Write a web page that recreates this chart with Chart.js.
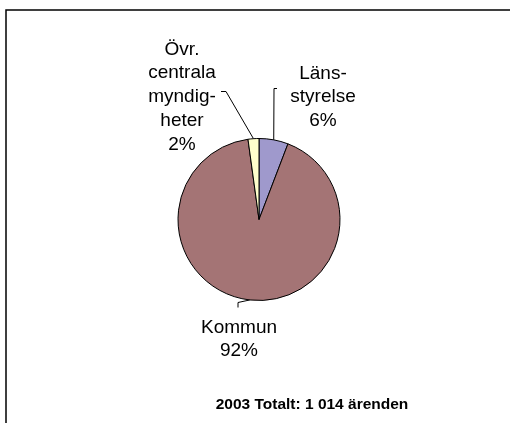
<!DOCTYPE html>
<html>
<head>
<meta charset="utf-8">
<script src="https://cdn.jsdelivr.net/npm/chart.js@4/dist/chart.umd.min.js"></script>
<style>
  html, body { margin: 0; padding: 0; background: #fff; }
  #wrap { width: 510px; height: 423px; }
</style>
</head>
<body>
<div id="wrap"><canvas id="chart" width="510" height="423"></canvas></div>
<script>
// Ärenden per instans 2003
const categories = ["Läns-\nstyrelse", "Kommun", "Övr.\ncentrala\nmyndig-\nheter"]
const cases = [59, 933, 22]
const colors = ["#9F99CC", "#A47475", "#FFFFCC"]
const footerText = "2003 Totalt: 1 014 ärenden"

const FONT = "'Liberation Sans', Arial, sans-serif"

// label layout, offsets from pie centre (one per slice)
const labelLayout = [
  { dx: 64, dy: -141, from: [18, -131], elbow: [15, -131] },
  { dx: -20, dy: 113, from: [-21, 88], elbow: [-21, 83] },
  { dx: -77, dy: -165, from: [-38, -128], elbow: [-33, -128] }
]

const framePlugin = {
  id: "frame",
  beforeDraw(chart) {
    const ctx = chart.ctx
    ctx.save()
    ctx.strokeStyle = "#000"
    ctx.lineWidth = 1.5
    ctx.beginPath()
    ctx.moveTo(6, 430)
    ctx.lineTo(6, 10)
    ctx.lineTo(520, 10)
    ctx.stroke()
    ctx.restore()
  }
}

const labelPlugin = {
  id: "pieLabels",
  afterDraw(chart) {
    const ctx = chart.ctx
    const meta = chart.getDatasetMeta(0)
    const data = chart.data.datasets[0].data
    const total = data.reduce((a, b) => a + b, 0)
    ctx.save()
    meta.data.forEach((arc, i) => {
      const lay = labelLayout[i]
      const cx = arc.x, cy = arc.y
      const mid = (arc.startAngle + arc.endAngle) / 2
      const ax = cx + Math.cos(mid) * arc.outerRadius
      const ay = cy + Math.sin(mid) * arc.outerRadius

      // leader line
      ctx.strokeStyle = "#000"
      ctx.lineWidth = 1
      ctx.beginPath()
      ctx.moveTo(cx + lay.from[0], cy + lay.from[1])
      ctx.lineTo(cx + lay.elbow[0], cy + lay.elbow[1])
      ctx.lineTo(ax, ay)
      ctx.stroke()

      // text
      const lines = chart.data.labels[i].split("\n")
      lines.push(Math.round(data[i] / total * 100) + "%")
      ctx.fillStyle = "#000"
      ctx.font = "19px " + FONT
      ctx.textAlign = "center"
      ctx.textBaseline = "alphabetic"
      lines.forEach((t, k) => {
        ctx.fillText(t, cx + lay.dx, cy + lay.dy + k * 23.8)
      })
    })

    ctx.font = "bold 15.5px " + FONT
    ctx.textAlign = "center"
    ctx.fillText(footerText, 312, 409)
    ctx.restore()
  }
}

new Chart(document.getElementById("chart"), {
  type: "pie",
  data: {
    labels: categories,
    datasets: [{
      data: cases,
      backgroundColor: colors,
      borderColor: "#000",
      borderWidth: 1
    }]
  },
  options: {
    responsive: false,
    animation: false,
    radius: 81,
    layout: { padding: { left: 178, right: 170, top: 139, bottom: 123 } },
    plugins: {
      legend: { display: false },
      tooltip: { enabled: false }
    }
  },
  plugins: [framePlugin, labelPlugin]
})
</script>
</body>
</html>
